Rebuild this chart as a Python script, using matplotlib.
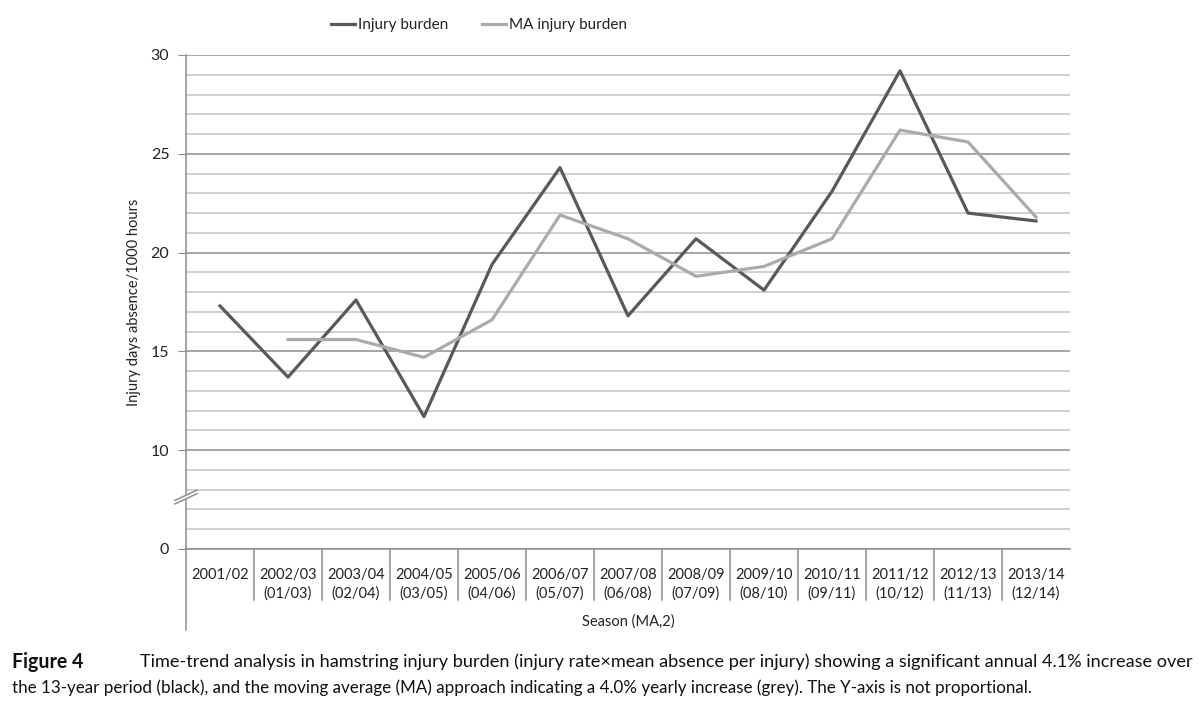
import matplotlib
matplotlib.use("Agg")
import matplotlib.pyplot as plt
from matplotlib.ticker import MultipleLocator, FixedLocator
from matplotlib.transforms import blended_transform_factory
from matplotlib.patches import Polygon

seasons = ["2001/02", "2002/03\n(01/03)", "2003/04\n(02/04)", "2004/05\n(03/05)",
           "2005/06\n(04/06)", "2006/07\n(05/07)", "2007/08\n(06/08)", "2008/09\n(07/09)",
           "2009/10\n(08/10)", "2010/11\n(09/11)", "2011/12\n(10/12)", "2012/13\n(11/13)",
           "2013/14\n(12/14)"]
injury_burden = [17.3, 13.7, 17.6, 11.7, 19.4, 24.3, 16.8, 20.7, 18.1, 23.1, 29.2, 22.0, 21.6]
ma_burden = [None, 15.6, 15.6, 14.7, 16.6, 21.9, 20.7, 18.8, 19.3, 20.7, 26.2, 25.6, 21.8]

# the y axis is not proportional: "0" sits where 5 would be
ytick_pos = [5, 10, 15, 20, 25, 30]
ytick_labels = ["0", "10", "15", "20", "25", "30"]

plt.rcParams["font.family"] = ["Lato", "DejaVu Sans"]

fig = plt.figure(figsize=(12, 7.1), dpi=100)
ax = fig.add_axes([186 / 1200, 161 / 710, 884 / 1200, 494 / 710])

x = list(range(len(seasons)))
ax.plot(x, injury_burden, color="#595959", lw=2.3, label="Injury burden", zorder=3)
ma_x = [i for i, v in enumerate(ma_burden) if v is not None]
ma_y = [v for v in ma_burden if v is not None]
ax.plot(ma_x, ma_y, color="#ababab", lw=2.3, label="MA injury burden", zorder=3)

ax.set_xlim(-0.5, len(seasons) - 0.5)
ax.set_ylim(5, 30)
ax.yaxis.set_major_locator(FixedLocator(ytick_pos))
ax.set_yticklabels(ytick_labels)
ax.yaxis.set_minor_locator(MultipleLocator(1))
ax.grid(which="major", axis="y", color="#8e8e8e", lw=1.1)
ax.grid(which="minor", axis="y", color="#c4c4c4", lw=1.1)
ax.set_axisbelow(True)

for s in ["top", "right"]:
    ax.spines[s].set_visible(False)
ax.spines["left"].set_color("#8e8e8e")
ax.spines["bottom"].set_color("#8e8e8e")
ax.spines["left"].set_linewidth(1.1)
ax.spines["bottom"].set_linewidth(1.1)

ax.tick_params(axis="y", which="major", length=6, color="#8e8e8e", labelsize=11.5,
               pad=6, labelcolor="#222222")
ax.tick_params(axis="y", which="minor", length=0)
ax.set_xticks(x)
ax.set_xticklabels(seasons, fontsize=10.5, color="#222222", linespacing=1.35)
ax.tick_params(axis="x", length=0, pad=14)

# category separators below the axis and extended left spine
trans = blended_transform_factory(ax.transData, ax.transAxes)
for b in range(len(seasons) - 1):
    ax.plot([b + 0.5, b + 0.5], [0, -51 / 494], transform=trans, color="#8e8e8e",
            lw=1.1, clip_on=False)
ax.plot([-0.5, -0.5], [0, -81 / 494], transform=trans, color="#8e8e8e", lw=1.1,
        clip_on=False)

# axis break marks
bx = blended_transform_factory(ax.transAxes, ax.transData)
w = 11 / 884
poly = Polygon([(-w, 7.28), (w, 7.8), (w, 7.98), (-w, 7.46)], closed=True,
               transform=bx, facecolor="white", edgecolor="none", clip_on=False, zorder=4)
ax.add_patch(poly)
ax.plot([-w, w], [7.28, 7.8], transform=bx, color="#8e8e8e", lw=1.1, clip_on=False, zorder=5)
ax.plot([-w, w], [7.46, 7.98], transform=bx, color="#8e8e8e", lw=1.1, clip_on=False, zorder=5)

ax.set_ylabel("Injury days absence/1000 hours", fontsize=10.5, color="#222222", labelpad=7)
ax.set_xlabel("Season (MA,2)", fontsize=10.5, color="#222222", labelpad=10)

ax.legend(loc="center", bbox_to_anchor=(479 / 1200, 1 - 25 / 710), bbox_transform=fig.transFigure,
          ncol=2, frameon=False, fontsize=11, handlelength=1.6, handletextpad=0.2,
          columnspacing=2.2, labelcolor="#222222")

# caption, shrunk to the width it takes in the reference
renderer = fig.canvas.get_renderer()


def fit_text(x0, x1, y, s, **kw):
    t = fig.text(x0 / 1200, 1 - y / 710, s, va="center", color="#111111", **kw)
    width = t.get_window_extent(renderer).width
    t.set_fontsize(t.get_fontsize() * (x1 - x0) / width)
    return t


line1 = fit_text(140, 1192, 662,
                 "Time-trend analysis in hamstring injury burden (injury rate\u00d7mean absence per injury) "
                 "showing a significant annual 4.1% increase over", fontsize=13)
fit_text(12, 1030, 688,
         "the 13-year period (black), and the moving average (MA) approach indicating a 4.0% "
         "yearly increase (grey). The Y-axis is not proportional.", fontsize=13)
fig.text(12 / 1200, 1 - 662 / 710, "Figure 4", va="center", color="#111111",
         fontsize=line1.get_fontsize() + 1, fontweight="bold")

fig.savefig("out.png", dpi=100, facecolor="white")
